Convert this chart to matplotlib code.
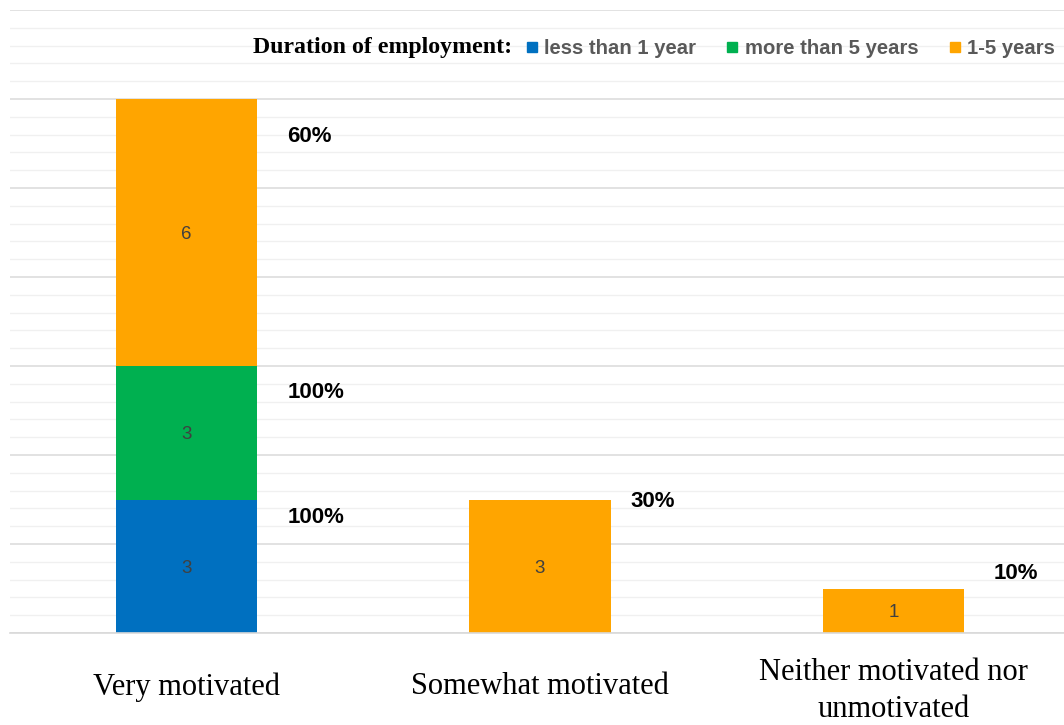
import matplotlib
matplotlib.use("Agg")
import matplotlib.pyplot as plt
from matplotlib.lines import Line2D
import matplotlib.transforms as mtransforms
import numpy as np

categories = ["Very motivated", "Somewhat motivated", "Neither motivated nor\nunmotivated"]
series_names = ["less than 1 year", "more than 5 years", "1-5 years"]
less_than_1 = [3, 0, 0]
more_than_5 = [3, 0, 0]
one_to_five = [6, 3, 1]
pct_less_than_1 = ["100%", "", ""]
pct_more_than_5 = ["100%", "", ""]
pct_one_to_five = ["60%", "30%", "10%"]
legend_title = "Duration of employment:"

colors = ["#0070C0", "#00B050", "#FFA500"]

fig = plt.figure(figsize=(10.64, 7.25), dpi=100)
ax = fig.add_axes([10/1064, 92/725, 1 - 10/1064, (633-10)/725])

x = np.arange(len(categories))
width = 0.4
series = [less_than_1, more_than_5, one_to_five]
pcts = [pct_less_than_1, pct_more_than_5, pct_one_to_five]
# per-segment offsets (pixels) for percent labels, relative to segment top-right corner
pct_dy = [[-18, 0, 0], [-26, 0, 0], [-38, -2, 15]]
pct_dx = [[30, 0, 0], [30, 0, 0], [30, 20, 30]]

bottom = np.zeros(len(categories))
for si, (vals, col) in enumerate(zip(series, colors)):
    vals = np.array(vals, dtype=float)
    ax.bar(x, vals, width, bottom=bottom, color=col, zorder=3, label=series_names[si])
    for i, v in enumerate(vals):
        if v > 0:
            ax.text(x[i], bottom[i] + v / 2 - 0.05, f"{int(v)}", ha="center", va="center",
                    fontsize=13.5, color="#404040", family="Liberation Sans", zorder=4)
            top = bottom[i] + v
            ax.annotate(pcts[si][i], xy=(x[i] + width / 2, top),
                        xytext=(pct_dx[si][i] * 0.72, pct_dy[si][i] * 0.72),
                        textcoords="offset points", ha="left", va="center",
                        fontsize=16, fontweight="bold", family="Liberation Sans",
                        color="black", zorder=4)
    bottom += vals

ax.set_xlim(-0.5, 2.483)
ax.set_ylim(0, 14)
ax.set_yticks(np.arange(0, 14.01, 2))
ax.set_yticks(np.arange(0, 14.01, 0.4), minor=True)
ax.grid(axis="y", which="major", color="#DDDDDD", linewidth=1.2, zorder=0)
ax.grid(axis="y", which="minor", color="#F0F0F0", linewidth=1.0, zorder=0)
ax.tick_params(axis="y", which="both", left=False, labelleft=False)
ax.set_xticks(x)
ax.set_xticklabels([])
ax.tick_params(axis="x", length=0)
trans = mtransforms.blended_transform_factory(ax.transData, ax.transAxes)
for i, lab in enumerate(categories):
    nlines = lab.count("\n") + 1
    ypix = 687 + 4 * (nlines - 1)
    ax.text(x[i], -(ypix - 633) / 623, lab, transform=trans, ha="center", va="center",
            family="Liberation Serif", fontsize=22, linespacing=1.33, multialignment="center")
for s in ["top", "right", "left"]:
    ax.spines[s].set_visible(False)
ax.spines["bottom"].set_color("#D9D9D9")
ax.spines["bottom"].set_linewidth(1.2)
ax.spines["bottom"].set_zorder(3)

fig.text(253/1064, 1 - 48/725, legend_title, family="Liberation Serif", fontweight="bold",
         fontsize=17.2, ha="left", va="center")
handles = [Line2D([], [], marker="s", linestyle="none", markersize=7.3, color=c) for c in colors]
leg = fig.legend(handles, series_names, loc="center right", bbox_to_anchor=(1.0085, 1 - 49/725),
                 ncol=3, frameon=False, handlelength=0.5, handletextpad=0.35,
                 columnspacing=1.55, prop={"family": "Liberation Sans", "weight": "bold", "size": 14.6})
for t in leg.get_texts():
    t.set_color("#595959")

fig.savefig("out.png", dpi=100, facecolor="white")
